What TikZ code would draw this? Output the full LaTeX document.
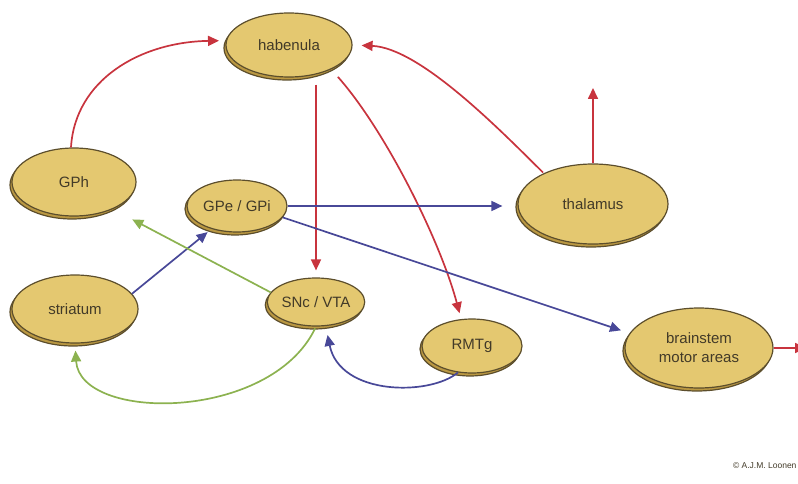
\documentclass[tikz,border=0pt]{standalone}
\usepackage{fontspec}
\setmainfont{Liberation Sans}
\usetikzlibrary{shapes.geometric,shadows,arrows.meta}
\definecolor{gold}{RGB}{228,200,112}
\definecolor{goldshade}{RGB}{186,152,66}
\definecolor{goldline}{RGB}{92,78,44}
\definecolor{labelgray}{RGB}{66,58,40}
\definecolor{hredc}{RGB}{200,52,62}
\definecolor{hbluec}{RGB}{72,72,152}
\definecolor{hgreenc}{RGB}{140,178,80}
\tikzset{
  nucleus/.style={ellipse,fill=gold,draw=goldline,line width=1.2pt,inner sep=0pt,
    text=labelgray,font=\fontsize{15}{19}\selectfont,align=center,
    general shadow={shadow xshift=-2pt,shadow yshift=-3pt,fill=goldshade,draw=goldline,line width=1.2pt}},
  redarr/.style={draw=hredc,line width=1.7pt,-{Triangle[length=11pt,width=10pt]}},
  bluearr/.style={draw=hbluec,line width=1.7pt,-{Triangle[length=11pt,width=10pt]}},
  greenarr/.style={draw=hgreenc,line width=1.7pt,-{Triangle[length=11pt,width=10pt]}}
}
\begin{document}
\begin{tikzpicture}[x=1pt,y=-1pt]
\useasboundingbox (0,0) rectangle (798,484);
% nuclei
\node[nucleus,minimum width=126pt,minimum height=64pt] (hab) at (289,45) {habenula};
\node[nucleus,minimum width=124pt,minimum height=68pt] (gph) at (74,182) {GPh};
\node[nucleus,minimum width=100pt,minimum height=52pt] (gpe) at (237,206) {GPe / GPi};
\node[nucleus,minimum width=126pt,minimum height=68pt] (str) at (75,309) {striatum};
\node[nucleus,minimum width=88pt,minimum height=48pt] (snc) at (316,302) {SNc / VTA};
\node[nucleus,minimum width=150pt,minimum height=80pt] (thal) at (593,204) {thalamus};
\node[nucleus,minimum width=100pt,minimum height=54pt] (rmtg) at (472,346) {RMTg};
\node[nucleus,minimum width=148pt,minimum height=80pt] (bsm) at (699,348) {brainstem\\motor areas};
\coordinate (thalout) at (593,88);
\coordinate (bsmout) at (806,348);
% red
\draw[redarr,shorten >=7pt] (gph.95) .. controls (75,80) and (140,42) .. (hab.176);
\draw[redarr,shorten <=1pt,shorten >=9pt] (thal.148) .. controls (500,130) and (420,48) .. (hab.east);
\draw[redarr,shorten <=7pt,shorten >=7pt] (hab.south -| snc.north) -- (snc.north);
\draw[redarr,shorten <=10pt,shorten >=6pt] (hab.-30) .. controls (385,130) and (440,240) .. (rmtg.112);
\draw[redarr] (thal.north) -- (thalout);
\draw[redarr] (bsm.east) -- (bsmout);
% blue
\draw[bluearr,shorten >=15pt] (gpe.east) -- (gpe.east -| thal.west);
\draw[bluearr,shorten >=9pt] (gpe.-14) -- (bsm.168);
\draw[bluearr,shorten >=5pt] (str.15) -- (gpe.222);
\draw[bluearr,shorten >=9pt] (rmtg.-118) .. controls (430,396) and (340,396) .. (snc.-68);
% green
\draw[greenarr,shorten >=22pt] (snc.168) -- (gph.-35);
\draw[greenarr,shorten <=2pt,shorten >=7pt] (snc.south) .. controls (270,422) and (80,422) .. (str.south);
\node[anchor=east,font=\fontsize{8.5}{10}\selectfont,text=labelgray] (copy) at (800,466) {© A.J.M. Loonen};
\end{tikzpicture}
\end{document}
